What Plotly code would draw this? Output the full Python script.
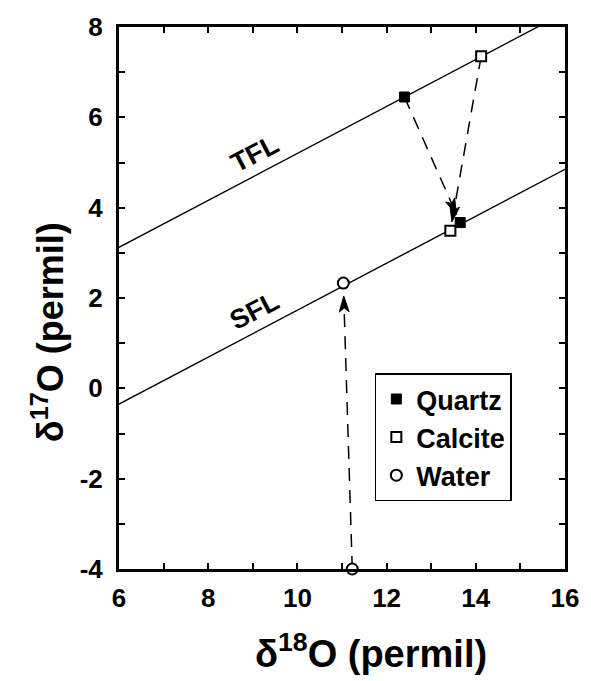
import math
import plotly.graph_objects as go

# ---------------- data ----------------
line_x = [6, 16]
tfl_y = [3.12, 8.32]
sfl_y = [-0.35, 4.85]

quartz_x = [12.40, 13.65]
quartz_y = [6.45, 3.67]
calcite_x = [14.12, 13.43]
calcite_y = [7.35, 3.49]
water_x = [11.23, 11.03]
water_y = [-4.00, 2.33]

x_ticks = list(range(6, 17))
x_labels = [str(v) if v % 2 == 0 else "" for v in x_ticks]
y_ticks = list(range(-4, 9))
y_labels = [str(v) if v % 2 == 0 else "" for v in y_ticks]

# ---------------- layout constants ----------------
W, H = 591, 681
ML, MR, MT, MB = 119, 17, 23, 112
X_RANGE = [6, 16]
Y_RANGE = [-4, 8]
PW, PH = W - ML - MR, H - MT - MB
px_per_unit = PW / (X_RANGE[1] - X_RANGE[0])

FONT = "Liberation Sans, Arial, Helvetica, sans-serif"

fig = go.Figure()

# fractionation lines
for ys in (tfl_y, sfl_y):
    fig.add_trace(go.Scatter(x=line_x, y=ys, mode="lines",
                             line=dict(color="black", width=1.4),
                             showlegend=False, hoverinfo="skip"))


def add_arrow(xs, ys, standoff_px):
    """dashed line from first to second point with a notched arrowhead"""
    x0, y0, x1, y1 = xs[0], ys[0], xs[1], ys[1]
    dx, dy = x1 - x0, y1 - y0
    d = math.hypot(dx, dy)
    ux, uy = dx / d, dy / d
    nx, ny = -uy, ux
    s = standoff_px / px_per_unit
    L = 16 / px_per_unit
    hw = 5 / px_per_unit
    notch = 4 / px_per_unit
    tx, ty = x1 - ux * s, y1 - uy * s
    bx, by = tx - ux * L, ty - uy * L
    mx, my = tx - ux * (L - notch), ty - uy * (L - notch)
    fig.add_trace(go.Scatter(x=[x0, mx], y=[y0, my], mode="lines",
                             line=dict(color="black", width=1.5, dash="13px,9px"),
                             showlegend=False, hoverinfo="skip"))
    fig.add_trace(go.Scatter(
        x=[tx, bx + nx * hw, mx, bx - nx * hw, tx],
        y=[ty, by + ny * hw, my, by - ny * hw, ty],
        mode="lines", fill="toself", fillcolor="black",
        line=dict(color="black", width=1),
        showlegend=False, hoverinfo="skip"))


add_arrow(quartz_x, quartz_y, 9)
add_arrow(calcite_x, calcite_y, 9)
add_arrow(water_x, water_y, 13)

fig.add_trace(go.Scatter(x=quartz_x, y=quartz_y, mode="markers", name="Quartz",
                         marker=dict(symbol="square", size=10, color="black",
                                     line=dict(color="black", width=1)),
                         cliponaxis=False))
fig.add_trace(go.Scatter(x=calcite_x, y=calcite_y, mode="markers", name="Calcite",
                         marker=dict(symbol="square", size=10, color="white",
                                     line=dict(color="black", width=2)),
                         cliponaxis=False))
fig.add_trace(go.Scatter(x=water_x, y=water_y, mode="markers", name="Water",
                         marker=dict(symbol="circle", size=11, color="white",
                                     line=dict(color="black", width=2)),
                         cliponaxis=False))

axis_common = dict(
    ticks="inside", ticklen=6, tickwidth=1.5, tickcolor="black",
    showline=True, linewidth=3, linecolor="black", mirror="ticks",
    showgrid=False, zeroline=False,
    tickfont=dict(family=FONT, size=26, color="black", weight="bold"),
)

title_font = dict(family=FONT, color="black", weight="bold")

fig.update_layout(
    width=W, height=H,
    margin=dict(l=ML, r=MR, t=MT, b=MB),
    paper_bgcolor="white", plot_bgcolor="white",
    font=dict(family=FONT, color="black"),
    xaxis=dict(range=X_RANGE, tickvals=x_ticks, ticktext=x_labels,
               ticklabelstandoff=4, **axis_common),
    yaxis=dict(range=Y_RANGE, tickvals=y_ticks, ticktext=y_labels,
               ticklabelstandoff=8, **axis_common),
    showlegend=True,
    legend=dict(x=(380 - ML) / PW, y=(H - MB - 372) / PH,
                xanchor="left", yanchor="top",
                bordercolor="black", borderwidth=1.5, bgcolor="white",
                font=dict(family=FONT, size=27, color="black", weight="bold"),
                tracegroupgap=0),
    annotations=[
        dict(text="δ<sup>18</sup>O (permil)", xref="paper", yref="paper",
             x=(376 - ML) / PW, y=-(652 - (H - MB)) / PH,
             xanchor="center", yanchor="middle", showarrow=False,
             font=dict(size=38, **title_font)),
        dict(text="δ<sup>17</sup>O (permil)", xref="paper", yref="paper",
             x=-(ML - 46) / PW, y=((H - MB) - 330) / PH,
             xanchor="center", yanchor="middle", textangle=-90, showarrow=False,
             font=dict(size=36, **title_font)),
        dict(text="TFL", x=9.03, y=5.19, xref="x", yref="y", showarrow=False,
             textangle=-27.5, font=dict(size=27, **title_font)),
        dict(text="SFL", x=9.03, y=1.71, xref="x", yref="y", showarrow=False,
             textangle=-27.5, font=dict(size=27, **title_font)),
    ],
)

fig.write_html("out.html")
